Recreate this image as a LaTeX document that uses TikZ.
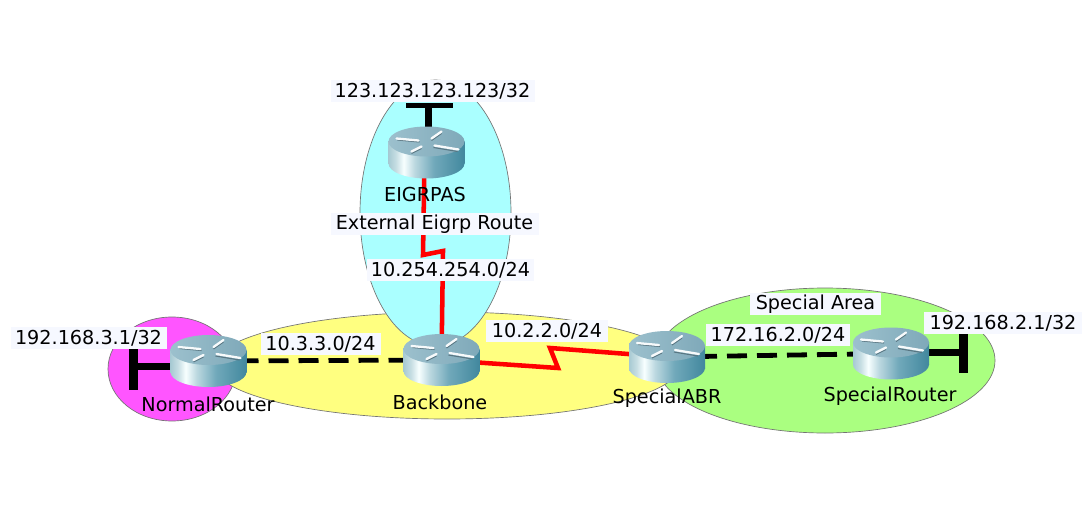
\documentclass[tikz,border=0pt]{standalone}
\usepackage{fontspec}
\setmainfont{DejaVu Sans}
\usetikzlibrary{shapes.geometric}
\definecolor{labelbg}{HTML}{F6F8FF}
\definecolor{rtopl}{HTML}{9CC0CD}
\definecolor{rtopr}{HTML}{7FA9B9}
\definecolor{zmag}{HTML}{FF55FF}
\definecolor{zcyan}{HTML}{AAFFFF}
\definecolor{zyel}{HTML}{FFFF80}
\definecolor{zgrn}{HTML}{AAFF80}
\definecolor{linkred}{HTML}{FF0000}
\pgfdeclarehorizontalshading{routerside}{100bp}{
  rgb(0bp)=(.33,.56,.63);
  rgb(18bp)=(.48,.68,.74);
  rgb(30bp)=(.78,.87,.89);
  rgb(35bp)=(.97,1,1);
  rgb(42bp)=(.74,.85,.88);
  rgb(55bp)=(.44,.66,.73);
  rgb(80bp)=(.21,.50,.59);
  rgb(100bp)=(.05,.40,.50)}
\tikzset{
  x=0.75pt,y=-0.75pt,
  txt/.style={font=\fontsize{14.4pt}{16pt}\selectfont,text=black,inner sep=0pt},
  tag/.style={txt,fill=labelbg,minimum height=16.5pt},
  zone/.style={ellipse,draw=black!55,line width=0.5pt,inner sep=0pt},
  routerbox/.style={inner sep=0pt,minimum width=57.5pt,minimum height=39pt},
  stubline/.style={line width=5.2pt,black},
  barline/.style={line width=6.75pt,black},
  serial/.style={line width=3.6pt,black,dash pattern=on 15pt off 7.5pt},
  redlink/.style={line width=3.4pt,linkred,line join=miter},
  glint/.style={white!92!rtopl,line width=1.7pt,line cap=round},
  glintdark/.style={black!30!rtopr,line width=0.8pt},
  pics/router/.style={code={
    \path[shading=routerside] (0,11) ellipse[x radius=38,y radius=15];
    \path[shading=routerside] (-38,-11) rectangle (38,11);
    \path[left color=rtopl,right color=rtopr] (0,-11) ellipse[x radius=38,y radius=15];
    \draw[glintdark] (-29,-12.5) -- (-7,-10.5);
    \draw[glintdark] (5,-12) -- (15,-19);
    \draw[glintdark] (7,-5) -- (31,-1);
    \draw[glintdark] (-15,1) -- (-5,-4);
    \draw[glint] (-30,-14) -- (-8,-12);
    \draw[glint] (5,-14) -- (15,-21);
    \draw[glint] (8,-7) -- (32,-3);
    \draw[glint] (-15,-1) -- (-5,-6);
  }}
}
\begin{document}
\begin{tikzpicture}
\useasboundingbox[fill=white] (0,0) rectangle (1085,510);
% router anchors (bodies are drawn after the links)
\node[routerbox] (eigrp) at (426.5,152.5) {};
\node[routerbox] (normal) at (208.5,361) {};
\node[routerbox] (backbone) at (441.5,360) {};
\node[routerbox] (abr) at (667,357) {};
\node[routerbox] (special) at (891,353.5) {};
% areas
\node[zone,fill=zmag,minimum width=128*.75pt,minimum height=104*.75pt] (zonep) at (172,369) {};
\node[zone,fill=zgrn,minimum width=340*.75pt,minimum height=145*.75pt] (zoneg) at (825,360.5) {};
\node[zone,fill=zyel,minimum width=466*.75pt,minimum height=107*.75pt] (zoney) at (447,365.5) {};
\node[zone,fill=zcyan,minimum width=151*.75pt,minimum height=266*.75pt] (zonec) at (435.5,213) {};
% stubs
\coordinate (topbar) at (428.5,105.5);
\coordinate (leftbar) at (133.5,366.5);
\coordinate (rightbar) at (963,352.5);
\coordinate (tl) at (406,105.5);
\coordinate (tr) at (453,105.5);
\coordinate (lt) at (133.5,349);
\coordinate (lb) at (133.5,390);
\coordinate (rt) at (963,333);
\coordinate (rb) at (963,373);
\draw[stubline] (topbar) -- (eigrp.center -| topbar);
\draw[line width=3.75pt] (tl) -- (tr);
\draw[stubline] (leftbar) -- (normal.center |- leftbar);
\draw[barline] (lt) -- (lb);
\draw[stubline] (rightbar) -- (special.center |- rightbar);
\draw[barline] (rt) -- (rb);
% links
\draw[serial] (normal.center) -- (backbone.center);
\draw[serial] (abr.center) -- (special.center);
\coordinate (z1) at (558,368);
\coordinate (z2) at (550,348);
\coordinate (v0) at (424.5,160);
\coordinate (v1) at (423,255);
\coordinate (v2) at (443,251);
\draw[redlink] (backbone.center) -- (z1) -- (z2) -- (abr.center);
\draw[redlink] (v0) -- (v1) -- (v2) -- (backbone.center);
% router bodies
\pic at (eigrp) {router};
\pic at (normal) {router};
\pic at (backbone) {router};
\pic at (abr) {router};
\pic at (special) {router};
% labels
\node[txt] (n1) at (425,195) {EIGRPAS};
\node[txt] (n2) at (208,404) {NormalRouter};
\node[txt] (n3) at (440,402) {Backbone};
\node[txt] (n4) at (667,398) {SpecialABR};
\node[txt] (n5) at (890,396) {SpecialRouter};
\node[tag,minimum width=153pt] (l1) at (432.5,91.5) {123.123.123.123/32};
\node[tag,minimum width=156pt] (l2) at (434.5,224) {External Eigrp Route};
\node[tag,minimum width=125pt] (l3) at (450.5,270) {10.254.254.0/24};
\node[tag,minimum width=117pt] (l4) at (88.5,338) {192.168.3.1/32};
\node[tag,minimum width=90pt] (l5) at (320.5,344) {10.3.3.0/24};
\node[tag,minimum width=91pt] (l6) at (547,331) {10.2.2.0/24};
\node[tag,minimum width=108pt] (l7) at (778,335) {172.16.2.0/24};
\node[tag,minimum width=98pt] (l8) at (815.5,304) {Special Area};
\node[tag,minimum width=118pt] (l9) at (1003,323) {192.168.2.1/32};
\end{tikzpicture}
\end{document}
